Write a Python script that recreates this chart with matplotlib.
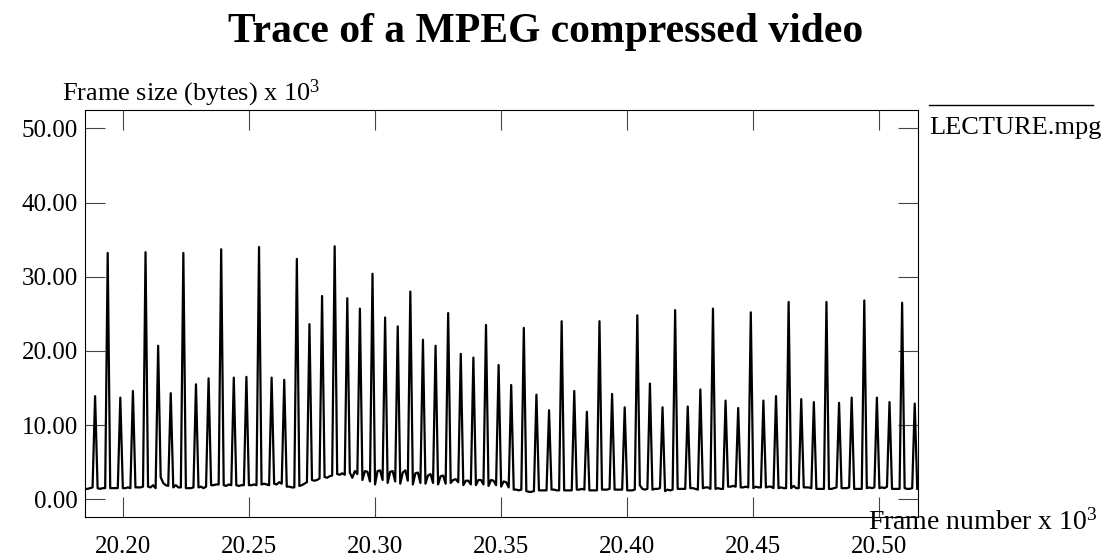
import numpy as np
import matplotlib
matplotlib.use('Agg')
import matplotlib.pyplot as plt
from matplotlib.lines import Line2D

plt.rcParams['font.family'] = ['Liberation Serif', 'DejaVu Serif']
plt.rcParams['mathtext.fontset'] = 'custom'
plt.rcParams['mathtext.rm'] = 'Liberation Serif'
plt.rcParams['mathtext.it'] = 'Liberation Serif:italic'

# first frame of the trace (frame numbers are plotted in thousands)
first_frame = 20185

# sizes (kbytes) of the I/P frames, one every 5 frames
peak_sizes = [
    13.9, 33.2, 13.7, 14.6, 33.3, 20.7, 14.3, 33.2, 15.5, 16.3, 33.7,
    16.4, 16.5, 34.0, 16.4, 16.1, 32.4, 23.6, 27.4, 34.1, 27.1, 25.7,
    30.4, 24.5, 23.3, 28.0, 21.5, 20.7, 25.1, 19.6, 19.1, 23.5, 18.1,
    15.4, 23.1, 14.1, 12.0, 24.0, 14.6, 11.8, 24.0, 14.2, 12.4, 24.8,
    15.6, 12.4, 25.5, 12.5, 14.8, 25.7, 13.3, 12.3, 25.2, 13.3, 13.9,
    26.6, 13.5, 13.1, 26.6, 13.0, 13.7, 26.8, 13.7, 13.1, 26.5, 12.9,
]

# B frame sizes (kbytes): frames before the first peak, then after each peak
b_frame_sizes = [
    [1.4, 1.4, 1.5, 1.6],
    [1.5, 1.4, 1.5, 1.5], [1.5, 1.5, 1.5, 1.5], [1.5, 1.5, 1.6, 1.5],
    [1.6, 1.6, 1.6, 1.7], [1.7, 1.6, 1.9, 1.5], [3.0, 2.2, 1.9, 1.8],
    [1.6, 1.9, 1.6, 1.6], [1.5, 1.5, 1.5, 1.6], [1.6, 1.7, 1.5, 1.7],
    [1.9, 1.9, 2.0, 2.0], [1.9, 1.8, 2.0, 1.9], [1.9, 1.8, 1.9, 1.9],
    [1.9, 1.9, 2.0, 1.9], [2.0, 2.1, 2.0, 1.9], [2.1, 2.0, 2.3, 2.1],
    [1.7, 1.7, 1.6, 1.6], [1.8, 1.9, 2.1, 2.3], [2.6, 2.5, 2.6, 2.8],
    [3.0, 2.9, 3.1, 3.2], [3.4, 3.3, 3.5, 3.3], [3.6, 2.9, 3.8, 3.4],
    [2.6, 3.8, 3.7, 2.4], [2.0, 3.8, 3.9, 2.6], [2.2, 3.7, 3.8, 2.4],
    [2.1, 3.6, 3.9, 2.5], [2.0, 3.5, 3.6, 2.2], [2.1, 3.2, 3.4, 2.2],
    [2.0, 3.1, 3.2, 2.1], [2.2, 2.6, 2.7, 2.3], [1.9, 2.5, 2.5, 2.0],
    [1.9, 2.6, 2.6, 2.0], [1.8, 2.6, 2.5, 1.9], [1.7, 2.4, 2.3, 1.6],
    [1.3, 1.3, 1.2, 1.3], [1.1, 1.0, 1.0, 1.1], [1.2, 1.2, 1.2, 1.2],
    [1.3, 1.3, 1.2, 1.2], [1.2, 1.2, 1.2, 1.2], [1.3, 1.3, 1.4, 1.3],
    [1.2, 1.2, 1.2, 1.2], [1.3, 1.3, 1.3, 1.4], [1.3, 1.3, 1.3, 1.3],
    [1.2, 1.2, 1.2, 1.3], [1.9, 1.4, 1.3, 1.4], [1.3, 1.4, 1.4, 1.5],
    [1.1, 1.3, 1.2, 1.3], [1.4, 1.4, 1.4, 1.4], [1.5, 1.5, 1.4, 1.3],
    [1.5, 1.6, 1.6, 1.4], [1.4, 1.5, 1.4, 1.4], [1.7, 1.7, 1.8, 1.7],
    [1.6, 1.6, 1.7, 1.6], [1.5, 1.7, 1.6, 1.6], [1.6, 1.7, 1.7, 1.5],
    [1.5, 1.6, 1.5, 1.5], [1.5, 1.8, 1.5, 1.5], [1.6, 1.6, 1.6, 1.5],
    [1.4, 1.4, 1.4, 1.4], [1.4, 1.4, 1.5, 1.6], [1.5, 1.5, 1.5, 1.6],
    [1.4, 1.4, 1.4, 1.4], [1.5, 1.6, 1.5, 1.6], [1.5, 1.6, 1.5, 1.7],
    [1.4, 1.4, 1.4, 1.4], [1.5, 1.4, 1.4, 1.5],
    [1.4],
]

x_ticks = [20.20, 20.25, 20.30, 20.35, 20.40, 20.45, 20.50]
y_ticks = [0, 10, 20, 30, 40, 50]

# interleave B frames and I/P frames in display order
sizes = list(b_frame_sizes[0])
for i, p in enumerate(peak_sizes):
    sizes.append(p)
    sizes.extend(b_frame_sizes[i + 1])
frames = (first_frame + np.arange(len(sizes))) / 1000.0

fig = plt.figure(figsize=(11.14, 5.6), dpi=100)
ax = fig.add_axes([85 / 1114, 1 - 517 / 560, 833 / 1114, 407 / 560])

ax.plot(frames, sizes, color='black', linewidth=1.6)

ax.set_xlim(20.185, 20.5153)
ax.set_ylim(-2.39, 52.47)
ax.set_xticks(x_ticks)
ax.set_xticklabels(['%.2f' % t for t in x_ticks])
ax.set_yticks(y_ticks)
ax.set_yticklabels(['%.2f' % t for t in y_ticks])
ax.tick_params(direction='in', length=14.4, width=0.8, top=True, right=True,
               labelsize=18, color='#444444')
ax.tick_params(axis='x', pad=14)
ax.tick_params(axis='y', pad=5)
for s in ax.spines.values():
    s.set_linewidth(0.8)

fig.text(546 / 1114, 1 - 42 / 560, 'Trace of a MPEG compressed video',
         ha='center', va='baseline', fontsize=30, fontweight='bold')
fig.text(62 / 1114, 1 - 100 / 560, r'Frame size (bytes) x $\mathrm{10^3}$',
         ha='left', va='baseline', fontsize=19)
fig.text(868 / 1114, 1 - 530 / 560, r'Frame number x $\mathrm{10^3}$',
         ha='left', va='baseline', fontsize=20)

# legend: sample line above the label
fig.add_artist(Line2D([929 / 1114, 1093 / 1114], [1 - 105 / 560] * 2,
                      transform=fig.transFigure, color='black', linewidth=1.0))
fig.text(929 / 1114, 1 - 134 / 560, 'LECTURE.mpg', ha='left', va='baseline',
         fontsize=19)

fig.savefig('out.png', dpi=100)
